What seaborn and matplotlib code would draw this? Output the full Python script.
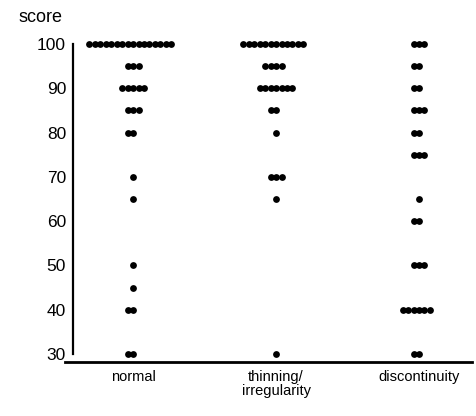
import numpy as np
import pandas as pd
import matplotlib
matplotlib.use("Agg")
import matplotlib.pyplot as plt
import seaborn as sns

# score values and how many patients had each, per group
groups = ["normal", "thinning/\nirregularity", "discontinuity"]

normal_scores = [100, 95, 90, 85, 80, 70, 65, 50, 45, 40, 30]
normal_counts = [16, 3, 5, 3, 2, 1, 1, 1, 1, 2, 2]

thinning_scores = [100, 95, 90, 85, 80, 70, 65, 30]
thinning_counts = [12, 4, 7, 2, 1, 3, 1, 1]

discont_scores = [100, 95, 90, 85, 80, 75, 65, 60, 50, 40, 30]
discont_counts = [3, 2, 2, 3, 2, 3, 1, 2, 3, 6, 2]

y_ticks = [30, 40, 50, 60, 70, 80, 90, 100]

rows = []
for g, sc, ct in zip(groups,
                     [normal_scores, thinning_scores, discont_scores],
                     [normal_counts, thinning_counts, discont_counts]):
    for v in np.repeat(sc, ct):
        rows.append({"group": g, "score": v})
df = pd.DataFrame(rows)

sns.set_style("white")
plt.rcParams["font.family"] = ["Liberation Sans", "DejaVu Sans"]
plt.rcParams["text.color"] = "black"
plt.rcParams["xtick.color"] = "black"
plt.rcParams["ytick.color"] = "black"

fig = plt.figure(figsize=(4.77, 4.16), dpi=100)
ax = fig.add_axes([0.1363, 0.13, 0.853, 0.775])

sns.swarmplot(data=df, x="group", y="score", order=groups, color="black",
              size=3.75, linewidth=0, ax=ax)

ax.set_xlim(-0.476, 2.37)
ax.set_ylim(28.2, 101)
ax.set_yticks(y_ticks)
ax.set_xlabel("")
ax.set_ylabel("")

for s in ["top", "right"]:
    ax.spines[s].set_visible(False)
ax.spines["left"].set_position(("data", -0.42))
ax.spines["left"].set_bounds(30, 100)
ax.spines["left"].set_linewidth(1.6)
ax.spines["bottom"].set_linewidth(2.0)
ax.spines["left"].set_color("black")
ax.spines["bottom"].set_color("black")

ax.tick_params(axis="y", direction="out", length=4, width=1.6, pad=1,
               labelsize=12.5)
ax.tick_params(axis="x", direction="out", length=3, width=1.2, pad=3,
               labelsize=10.5)
for lab in ax.get_xticklabels():
    lab.set_linespacing(0.95)

fig.text(0.038, 0.958, "score", fontsize=13, ha="left", va="center")

# fix the swarm layout, then fatten the dots a little so they touch
fig.canvas.draw()
for coll in ax.collections:
    if "draw" in coll.__dict__:
        del coll.draw
    coll.set_sizes([(6.8 * 72 / 100) ** 2])

fig.savefig("out.png", dpi=100)
